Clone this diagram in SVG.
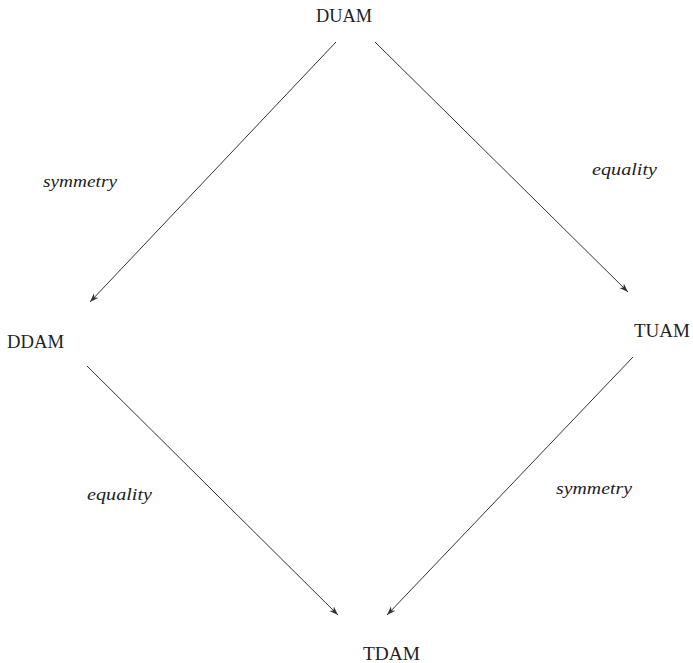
<svg xmlns="http://www.w3.org/2000/svg" width="693" height="663" viewBox="0 0 693 663">
<style>
.n{font-family:"Liberation Serif","Times New Roman",serif;font-size:18.5px;fill:#222;}
.l{font-family:"Liberation Serif","Times New Roman",serif;font-size:17px;font-style:italic;fill:#222;}
.c{stroke:#333;stroke-width:1;fill:none;marker-end:url(#ah);}
</style>
<defs>
<marker id="ah" viewBox="0 0 10 10" refX="10" refY="5" markerWidth="9" markerHeight="9" markerUnits="userSpaceOnUse" orient="auto">
<path d="M0,1.5 L10,5 L0,8.5 L3,5 Z" fill="#333"/>
</marker>
</defs>
<rect width="693" height="663" fill="#fff"/>
<g id="connectors">
<line class="c" x1="336" y1="42" x2="90" y2="302"/>
<line class="c" x1="375" y1="42" x2="628" y2="292"/>
<line class="c" x1="87" y1="366" x2="338" y2="615"/>
<line class="c" x1="633" y1="357" x2="387" y2="615"/>
</g>
<g id="DUAM"><text class="n" x="316" y="22" textLength="56" lengthAdjust="spacingAndGlyphs">DUAM</text></g>
<g id="DDAM"><text class="n" x="7" y="348" textLength="57" lengthAdjust="spacingAndGlyphs">DDAM</text></g>
<g id="TUAM"><text class="n" x="634" y="337" textLength="56" lengthAdjust="spacingAndGlyphs">TUAM</text></g>
<g id="TDAM"><text class="n" x="363" y="660" textLength="57" lengthAdjust="spacingAndGlyphs">TDAM</text></g>
<g id="labels">
<text class="l" x="43" y="187" textLength="74" lengthAdjust="spacingAndGlyphs">symmetry</text>
<text class="l" x="592" y="175" textLength="65" lengthAdjust="spacingAndGlyphs">equality</text>
<text class="l" x="87" y="500" textLength="65" lengthAdjust="spacingAndGlyphs">equality</text>
<text class="l" x="556" y="494" textLength="76" lengthAdjust="spacingAndGlyphs">symmetry</text>
</g>
</svg>
